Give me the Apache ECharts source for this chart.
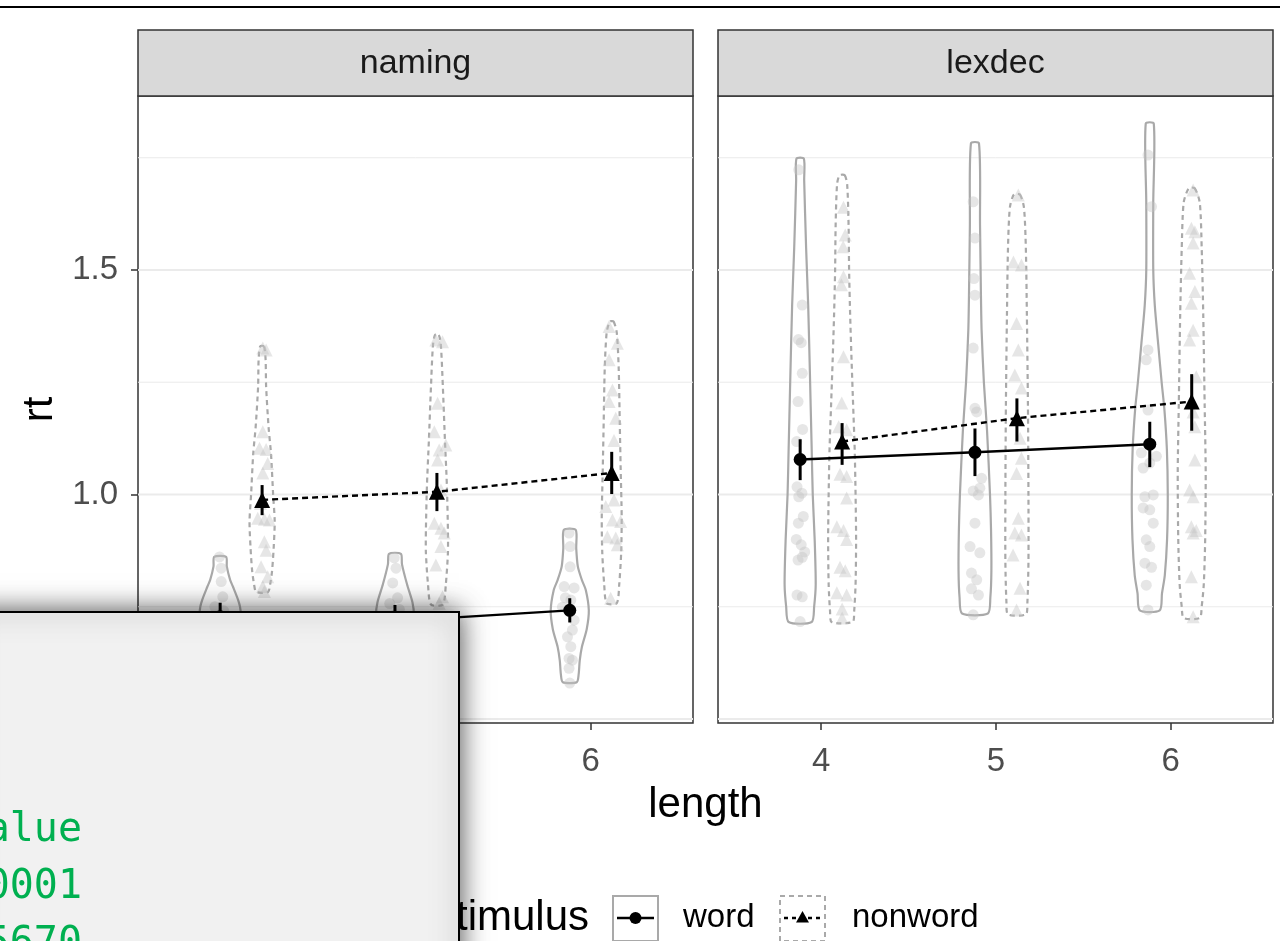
<!DOCTYPE html>
<html>
<head>
<meta charset="utf-8">
<script src="https://cdn.jsdelivr.net/npm/echarts@6/dist/echarts.min.js"></script>
<style>
  html, body { margin: 0; padding: 0; background: #ffffff; }
  #chart { width: 1280px; height: 941px; }
</style>
</head>
<body>
<div id="chart"></div>
<script>
// ---- data -------------------------------------------------------------
const tasks = ['naming', 'lexdec'];
const stimuli = ['word', 'nonword'];
const lengths = [4, 5, 6];
const yBreaks = [0.5, 1.0, 1.5];
const yMinorBreaks = [0.75, 1.25, 1.75];

// condition means of rt with their interval ends, per length 4, 5, 6
const namingWordMean = [0.728, 0.718, 0.742];
const namingWordLo = [0.697, 0.682, 0.715];
const namingWordHi = [0.759, 0.754, 0.769];
const namingNonwordMean = [0.988, 1.006, 1.048];
const namingNonwordLo = [0.954, 0.963, 1.001];
const namingNonwordHi = [1.021, 1.048, 1.095];
const lexdecWordMean = [1.078, 1.094, 1.112];
const lexdecWordLo = [1.032, 1.041, 1.061];
const lexdecWordHi = [1.123, 1.147, 1.162];
const lexdecNonwordMean = [1.118, 1.170, 1.207];
const lexdecNonwordLo = [1.066, 1.118, 1.142];
const lexdecNonwordHi = [1.159, 1.214, 1.268];

// violin outlines: [rt, half width in length units], top to bottom
const namingWordViolin = [
  [[0.861,0.034],[0.84,0.038],[0.81,0.057],[0.794,0.074],[0.765,0.103],[0.749,0.114],[0.72,0.12],[0.69,0.109],[0.66,0.086],[0.63,0.063],[0.61,0.046]],
  [[0.868,0.034],[0.845,0.04],[0.80,0.069],[0.76,0.10],[0.73,0.109],[0.70,0.103],[0.67,0.08],[0.64,0.057],[0.615,0.04]],
  [[0.921,0.034],[0.88,0.037],[0.84,0.046],[0.81,0.069],[0.787,0.092],[0.742,0.109],[0.70,0.097],[0.66,0.069],[0.63,0.057],[0.60,0.051],[0.582,0.04]]
];
const namingNonwordViolin = [
  [[1.33,0.011],[1.30,0.02],[1.24,0.023],[1.15,0.037],[1.09,0.051],[1.0,0.063],[0.94,0.072],[0.88,0.066],[0.83,0.057],[0.80,0.046],[0.783,0.034]],
  [[1.355,0.011],[1.33,0.023],[1.24,0.034],[1.12,0.046],[1.02,0.057],[0.92,0.063],[0.87,0.063],[0.80,0.051],[0.755,0.034]],
  [[1.385,0.011],[1.36,0.029],[1.28,0.04],[1.16,0.046],[1.06,0.051],[0.95,0.057],[0.87,0.054],[0.80,0.043],[0.758,0.029]]
];
const lexdecWordViolin = [
  [[1.748,0.021],[1.70,0.023],[1.55,0.034],[1.42,0.046],[1.25,0.057],[1.10,0.066],[1.0,0.072],[0.90,0.083],[0.80,0.089],[0.75,0.08],[0.716,0.066]],
  [[1.782,0.023],[1.60,0.029],[1.45,0.034],[1.366,0.038],[1.25,0.051],[1.143,0.069],[1.0,0.086],[0.92,0.092],[0.83,0.094],[0.77,0.088],[0.735,0.074]],
  [[1.826,0.023],[1.65,0.02],[1.5,0.02],[1.42,0.029],[1.336,0.048],[1.25,0.068],[1.188,0.084],[1.10,0.098],[1.0,0.103],[0.9,0.099],[0.82,0.086],[0.78,0.07],[0.742,0.057]]
];
const lexdecNonwordViolin = [
  [[1.711,0.015],[1.69,0.029],[1.6,0.037],[1.5,0.04],[1.4,0.046],[1.3,0.054],[1.2,0.063],[1.1,0.072],[1.0,0.077],[0.9,0.08],[0.8,0.077],[0.74,0.069],[0.716,0.06]],
  [[1.668,0.017],[1.64,0.04],[1.55,0.051],[1.4,0.057],[1.2,0.063],[1.0,0.066],[0.85,0.066],[0.76,0.06],[0.733,0.051]],
  [[1.682,0.017],[1.65,0.046],[1.55,0.057],[1.4,0.066],[1.2,0.074],[1.05,0.08],[0.9,0.077],[0.8,0.069],[0.75,0.057],[0.725,0.046]]
];

// individual observations: [rt, horizontal jitter in length units]
const namingWordPoints = [
  [[0.861,-0.004],[0.836,0.006],[0.806,0.006],[0.772,0.015],[0.75,-0.03],[0.741,0.02],[0.728,-0.01],[0.716,0.035],[0.703,-0.04],[0.692,0.01],[0.68,-0.02],[0.667,0.03],[0.655,0],[0.641,-0.025],[0.628,0.015],[0.611,-0.005]],
  [[0.859,-0.004],[0.836,0.006],[0.803,-0.013],[0.77,0.015],[0.757,-0.03],[0.744,0.025],[0.731,-0.005],[0.72,0.04],[0.708,-0.035],[0.695,0.01],[0.684,-0.02],[0.672,0.025],[0.66,0],[0.648,-0.02],[0.633,0.015],[0.618,0]],
  [[0.914,-0.004],[0.884,0.002],[0.839,0.002],[0.795,-0.032],[0.792,0.025],[0.77,-0.025],[0.765,0.006],[0.749,-0.042],[0.72,0.025],[0.698,0.015],[0.683,-0.013],[0.661,0.006],[0.635,-0.004],[0.631,0.015],[0.613,-0.004],[0.58,0]]
];
const namingNonwordPoints = [
  [[1.326,0.004],[1.322,0.023],[1.14,0.004],[1.103,-0.015],[1.1,0.023],[1.069,0.032],[1.048,0.004],[0.98,-0.01],[0.947,-0.025],[0.945,0.013],[0.943,0.042],[0.895,0.013],[0.876,0.023],[0.839,-0.006],[0.817,0.032],[0.795,0.004],[0.784,0.013]],
  [[1.344,-0.006],[1.34,0.032],[1.203,0.004],[1.14,-0.015],[1.11,0.051],[1.099,0.013],[1.077,0.004],[1.01,0.023],[0.936,-0.015],[0.925,0.023],[0.914,0.042],[0.884,0.023],[0.843,-0.006],[0.772,0.032],[0.758,0.013]],
  [[1.374,-0.015],[1.337,0.032],[1.3,-0.015],[1.233,0.004],[1.207,-0.015],[1.17,0.023],[1.12,0.013],[0.988,0.013],[0.973,-0.034],[0.943,0.004],[0.94,0.051],[0.906,-0.025],[0.903,0.023],[0.888,0.032],[0.769,-0.006]]
];
const lexdecWordPoints = [
  [[1.723,-0.008],[1.422,0.012],[1.345,-0.01],[1.338,0.006],[1.27,0.012],[1.207,-0.012],[1.145,0.014],[1.118,-0.02],[1.08,0.004],[1.017,-0.018],[1.003,0.01],[0.995,-0.008],[0.951,0.018],[0.936,-0.01],[0.9,-0.022],[0.888,0.006],[0.872,0.026],[0.86,0.012],[0.854,-0.012],[0.776,-0.018],[0.772,0.012],[0.717,0]],
  [[1.652,-0.01],[1.571,0],[1.481,-0.006],[1.444,0],[1.326,-0.01],[1.192,0],[1.184,0.01],[1.036,0.038],[1.014,0.028],[1.008,-0.01],[0.999,0.02],[0.936,0],[0.884,-0.028],[0.87,0.028],[0.825,-0.02],[0.81,0.01],[0.79,-0.02],[0.776,0.02],[0.732,-0.01]],
  [[1.756,-0.01],[1.641,0.01],[1.322,-0.01],[1.3,-0.02],[1.188,-0.01],[1.093,-0.048],[1.085,0.038],[1.07,0],[1.059,-0.038],[0.999,0.02],[0.995,-0.028],[0.97,-0.038],[0.966,0],[0.936,0.02],[0.899,-0.02],[0.884,0],[0.847,-0.028],[0.838,0.01],[0.798,-0.02],[0.743,-0.01]]
];
const lexdecNonwordPoints = [
  [[1.64,0.008],[1.578,0.018],[1.552,0.006],[1.485,0.008],[1.467,-0.004],[1.307,0.008],[1.204,-0.002],[1.151,-0.02],[1.144,0.026],[1.045,-0.012],[1.04,0.026],[0.992,0.026],[0.928,-0.03],[0.92,0.008],[0.9,0.026],[0.838,-0.012],[0.83,0.018],[0.781,-0.03],[0.776,0.026],[0.745,0],[0.725,0]],
  [[1.667,0.008],[1.518,-0.02],[1.511,0.026],[1.381,-0.002],[1.322,0.008],[1.266,-0.012],[1.237,0.026],[1.125,0.018],[1.081,0.026],[1.047,-0.002],[0.947,0.008],[0.914,-0.012],[0.91,0.026],[0.865,-0.022],[0.791,0.018],[0.743,-0.002]],
  [[1.678,0.008],[1.593,-0.002],[1.585,0.018],[1.56,0.008],[1.493,-0.012],[1.452,0.018],[1.426,-0.002],[1.366,0.008],[1.344,-0.012],[1.262,0.026],[1.184,0.008],[1.151,0.018],[1.077,0.018],[1.01,-0.012],[0.995,0.008],[0.928,-0.002],[0.92,0.026],[0.914,0.008],[0.817,-0.002],[0.728,0.008]]
];

// console excerpt shown in the inset panel
const insetLines = ['Pr(>|t|) p-value', '<.0001', '0.5670'];

// ---- layout & styles ----------------------------------------------------
const FONT = '"Liberation Sans", Arial, Helvetica, sans-serif';
const MONO = '"DejaVu Sans Mono", "Liberation Mono", monospace';
const PANEL_LEFT = [138, 718];
const PANEL_W = 555;
const PANEL_TOP = 96;
const PANEL_H = 627;
const STRIP_TOP = 30;
const X_RANGE = [3.41, 6.585];
const Y_RANGE = [0.4911, 1.8875];
const DODGE = { word: -0.12, nonword: 0.12 };
const VIOLIN_GREY = '#a9a9a9';

const byTask = {
  naming: {
    word: { mean: namingWordMean, lo: namingWordLo, hi: namingWordHi, violin: namingWordViolin, points: namingWordPoints },
    nonword: { mean: namingNonwordMean, lo: namingNonwordLo, hi: namingNonwordHi, violin: namingNonwordViolin, points: namingNonwordPoints }
  },
  lexdec: {
    word: { mean: lexdecWordMean, lo: lexdecWordLo, hi: lexdecWordHi, violin: lexdecWordViolin, points: lexdecWordPoints },
    nonword: { mean: lexdecNonwordMean, lo: lexdecNonwordLo, hi: lexdecNonwordHi, violin: lexdecNonwordViolin, points: lexdecNonwordPoints }
  }
};

const chart = echarts.init(document.getElementById('chart'), null, { renderer: 'canvas' });

const grids = tasks.map((t, p) => ({
  left: PANEL_LEFT[p], top: PANEL_TOP, width: PANEL_W, height: PANEL_H,
  show: true, borderColor: '#333333', borderWidth: 1.5, backgroundColor: '#ffffff'
}));

const xAxes = tasks.map((t, p) => ({
  gridIndex: p, type: 'value', min: X_RANGE[0], max: X_RANGE[1],
  axisLine: { show: false },
  axisTick: { show: true, customValues: lengths, length: 7, lineStyle: { color: '#333333', width: 1.5 } },
  axisLabel: { show: true, customValues: lengths, fontSize: 33, color: '#4d4d4d', fontFamily: FONT, margin: 22 },
  splitLine: { show: false }
}));

const yAxes = tasks.map((t, p) => ({
  gridIndex: p, type: 'value', min: Y_RANGE[0], max: Y_RANGE[1],
  axisLine: { show: false },
  axisTick: { show: p === 0, customValues: yBreaks, length: 7, lineStyle: { color: '#333333', width: 1.5 } },
  axisLabel: { show: p === 0, customValues: yBreaks, fontSize: 33, color: '#4d4d4d', fontFamily: FONT, margin: 20,
    formatter: v => Number(v).toFixed(1) },
  splitLine: { show: false }
}));

const series = [];

tasks.forEach((task, p) => {
  // horizontal grid lines
  series.push({
    type: 'custom', xAxisIndex: p, yAxisIndex: p, z: 1, silent: true,
    data: yBreaks.map(v => [X_RANGE[0], v, 1]).concat(yMinorBreaks.map(v => [X_RANGE[0], v, 0])),
    renderItem: (params, api) => {
      const cs = params.coordSys;
      const y = api.coord([X_RANGE[0], api.value(1)])[1];
      return { type: 'line', shape: { x1: cs.x, y1: y, x2: cs.x + cs.width, y2: y },
        style: { stroke: '#ebebeb', lineWidth: api.value(2) ? 1.8 : 1 } };
    }
  });

  stimuli.forEach(stim => {
    const d = byTask[task][stim];
    const off = DODGE[stim];
    const dashed = stim === 'nonword';

    // violins
    series.push({
      type: 'custom', xAxisIndex: p, yAxisIndex: p, z: 2, silent: true,
      data: lengths.map((len, i) => [len + off, d.mean[i]]),
      renderItem: (params, api) => {
        const prof = d.violin[params.dataIndex];
        const cx = api.value(0);
        const right = prof.map(q => api.coord([cx + q[1], q[0]]));
        const left = prof.slice().reverse().map(q => api.coord([cx - q[1], q[0]]));
        return {
          type: 'polygon',
          shape: { points: right.concat(left), smooth: 0.25 },
          style: { fill: 'none', stroke: VIOLIN_GREY, lineWidth: 2.2, lineDash: dashed ? [5, 4] : null, lineJoin: 'round' }
        };
      }
    });

    // jittered observations
    const pts = [];
    lengths.forEach((len, i) => d.points[i].forEach(q => pts.push([len + off + q[1], q[0]])));
    series.push({
      type: 'scatter', xAxisIndex: p, yAxisIndex: p, z: 3, silent: true,
      symbol: dashed ? 'triangle' : 'circle', symbolSize: dashed ? 13 : 11,
      itemStyle: { color: '#c4c4c4', opacity: 0.42 },
      data: pts
    });

    // interval bars
    series.push({
      type: 'custom', xAxisIndex: p, yAxisIndex: p, z: 4, silent: true,
      data: lengths.map((len, i) => [len + off, d.lo[i], d.hi[i]]),
      renderItem: (params, api) => {
        const a = api.coord([api.value(0), api.value(1)]);
        const b = api.coord([api.value(0), api.value(2)]);
        return { type: 'line', shape: { x1: a[0], y1: a[1], x2: b[0], y2: b[1] },
          style: { stroke: '#000000', lineWidth: 3 } };
      }
    });

    // means joined across length
    series.push({
      type: 'line', xAxisIndex: p, yAxisIndex: p, z: 5, silent: true,
      symbol: dashed ? 'triangle' : 'circle', symbolSize: dashed ? 16 : 13,
      showSymbol: true,
      itemStyle: { color: '#000000' },
      lineStyle: { color: '#000000', width: 2.4, type: dashed ? [6, 4] : 'solid' },
      data: lengths.map((len, i) => [len + off, d.mean[i]])
    });
  });
});

// ---- decorations: strips, titles, legend, inset ---------------------------
const graphic = [];

// rule across the top of the page
graphic.push({ type: 'rect', shape: { x: 0, y: 6, width: 1280, height: 2 }, style: { fill: '#000000' }, z: 10 });

tasks.forEach((task, p) => {
  graphic.push({ type: 'rect', z: 10,
    shape: { x: PANEL_LEFT[p], y: STRIP_TOP, width: PANEL_W, height: PANEL_TOP - STRIP_TOP },
    style: { fill: '#d9d9d9', stroke: '#333333', lineWidth: 1.5 } });
  graphic.push({ type: 'text', z: 11, x: PANEL_LEFT[p] + PANEL_W / 2, y: (STRIP_TOP + PANEL_TOP) / 2 + 1,
    style: { text: task, fill: '#1a1a1a', font: '34px ' + FONT, align: 'center', verticalAlign: 'middle',
      textAlign: 'center', textVerticalAlign: 'middle' } });
});

// axis titles
graphic.push({ type: 'text', z: 11, x: 40, y: PANEL_TOP + PANEL_H / 2, rotation: Math.PI / 2,
  style: { text: 'rt', fill: '#000000', font: '42px ' + FONT, align: 'center', verticalAlign: 'middle',
    textAlign: 'center', textVerticalAlign: 'middle' } });
graphic.push({ type: 'text', z: 11, x: (PANEL_LEFT[0] + PANEL_LEFT[1] + PANEL_W) / 2, y: 805,
  style: { text: 'length', fill: '#000000', font: '42px ' + FONT, align: 'center', verticalAlign: 'middle',
    textAlign: 'center', textVerticalAlign: 'middle' } });

// legend
const LEG_Y = 918;
graphic.push({ type: 'text', z: 11, x: 589, y: LEG_Y,
  style: { text: 'stimulus', fill: '#000000', font: '42px ' + FONT, align: 'right', verticalAlign: 'middle',
    textAlign: 'right', textVerticalAlign: 'middle' } });
const legendKeys = [
  { label: 'word', x: 613, textX: 683, dashed: false },
  { label: 'nonword', x: 780, textX: 852, dashed: true }
];
legendKeys.forEach(k => {
  graphic.push({ type: 'rect', z: 11, shape: { x: k.x, y: LEG_Y - 22, width: 45, height: 45 },
    style: { fill: '#ffffff', stroke: VIOLIN_GREY, lineWidth: 2, lineDash: k.dashed ? [5, 4] : null } });
  graphic.push({ type: 'line', z: 12, shape: { x1: k.x + 4, y1: LEG_Y, x2: k.x + 41, y2: LEG_Y },
    style: { stroke: '#000000', lineWidth: 2.4, lineDash: k.dashed ? [4, 4] : null } });
  if (k.dashed) {
    graphic.push({ type: 'polygon', z: 13,
      shape: { points: [[k.x + 22.5, LEG_Y - 7], [k.x + 29, LEG_Y + 4.5], [k.x + 16, LEG_Y + 4.5]] },
      style: { fill: '#000000' } });
  } else {
    graphic.push({ type: 'circle', z: 13, shape: { cx: k.x + 22.5, cy: LEG_Y, r: 6 }, style: { fill: '#000000' } });
  }
  graphic.push({ type: 'text', z: 11, x: k.textX, y: LEG_Y,
    style: { text: k.label, fill: '#000000', font: '33px ' + FONT, align: 'left', verticalAlign: 'middle',
      textAlign: 'left', textVerticalAlign: 'middle' } });
});

// inset console panel laid over the lower left corner
graphic.push({ type: 'rect', z: 50, shape: { x: -30, y: 612, width: 489, height: 360 },
  style: { fill: '#f1f1f1', stroke: '#000000', lineWidth: 2, shadowBlur: 26, shadowColor: 'rgba(0,0,0,0.7)' } });
insetLines.forEach((line, i) => {
  graphic.push({ type: 'text', z: 51, x: 82, y: 851 + 57 * i,
    style: { text: line, fill: '#00b050', font: '40px ' + MONO, align: 'right', verticalAlign: 'bottom',
      textAlign: 'right', textVerticalAlign: 'bottom' } });
});

chart.setOption({
  animation: false,
  backgroundColor: '#ffffff',
  grid: grids,
  xAxis: xAxes,
  yAxis: yAxes,
  series: series,
  graphic: { elements: graphic }
});
</script>
</body>
</html>
